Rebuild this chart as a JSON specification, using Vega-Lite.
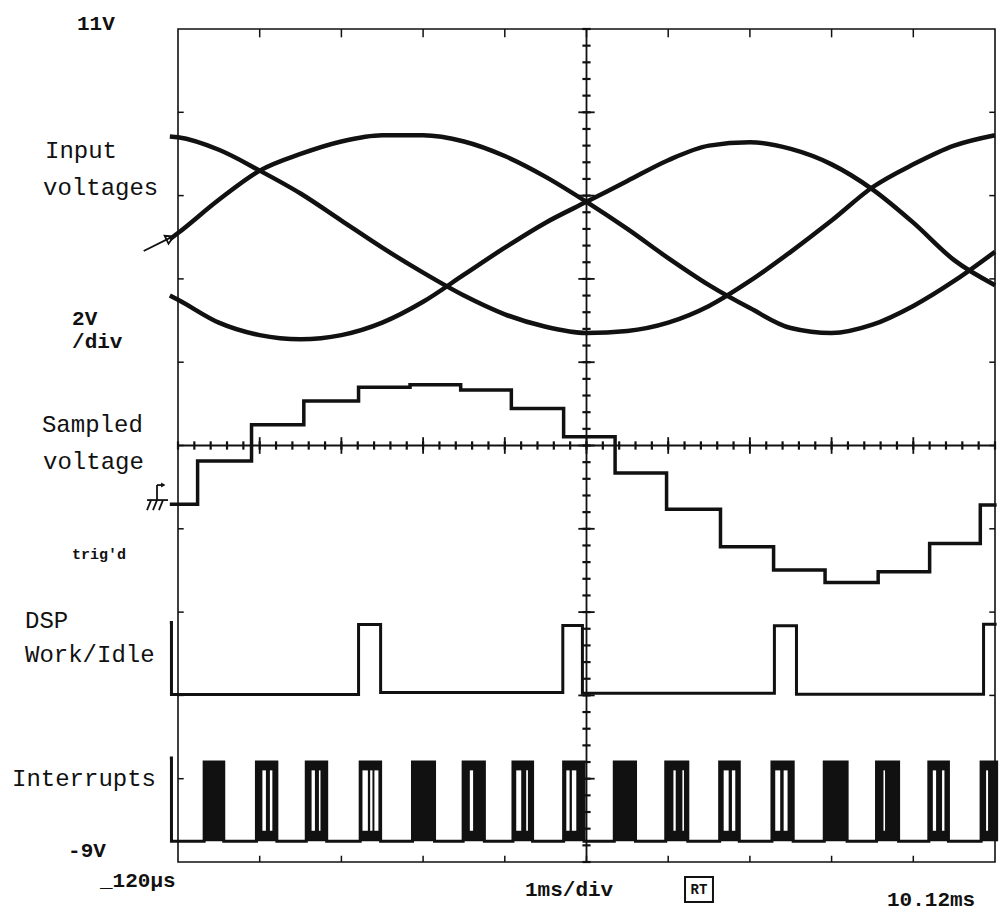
{
  "$schema": "https://vega.github.io/schema/vega-lite/v6.json",
  "width": 817,
  "height": 833,
  "autosize": {"type": "none"},
  "padding": {"left": 178, "top": 29, "right": 8, "bottom": 52},
  "background": "white",
  "config": {"view": {"stroke": "#111", "strokeWidth": 1.6}},
  "datasets": {
    "inputs": [
      {"ph": "A", "t": 0.02, "v": 5.95}, {"ph": "A", "t": 0.12, "v": 6.1}, {"ph": "A", "t": 0.62, "v": 6.9}, {"ph": "A", "t": 1.12, "v": 7.6}, {"ph": "A", "t": 1.62, "v": 8.0}, {"ph": "A", "t": 2.12, "v": 8.3}, {"ph": "A", "t": 2.62, "v": 8.45}, {"ph": "A", "t": 3.12, "v": 8.45}, {"ph": "A", "t": 3.62, "v": 8.3}, {"ph": "A", "t": 4.12, "v": 7.95}, {"ph": "A", "t": 4.62, "v": 7.45}, {"ph": "A", "t": 5.12, "v": 6.85}, {"ph": "A", "t": 5.62, "v": 6.2}, {"ph": "A", "t": 6.12, "v": 5.5}, {"ph": "A", "t": 6.62, "v": 4.85}, {"ph": "A", "t": 7.12, "v": 4.3}, {"ph": "A", "t": 7.62, "v": 3.82}, {"ph": "A", "t": 8.12, "v": 3.7}, {"ph": "A", "t": 8.62, "v": 3.9}, {"ph": "A", "t": 9.12, "v": 4.35}, {"ph": "A", "t": 9.62, "v": 4.95}, {"ph": "A", "t": 10.12, "v": 5.65},
      {"ph": "B", "t": 0.02, "v": 8.42}, {"ph": "B", "t": 0.12, "v": 8.4}, {"ph": "B", "t": 0.62, "v": 8.1}, {"ph": "B", "t": 1.12, "v": 7.6}, {"ph": "B", "t": 1.62, "v": 7.05}, {"ph": "B", "t": 2.12, "v": 6.4}, {"ph": "B", "t": 2.62, "v": 5.75}, {"ph": "B", "t": 3.12, "v": 5.15}, {"ph": "B", "t": 3.62, "v": 4.6}, {"ph": "B", "t": 4.12, "v": 4.15}, {"ph": "B", "t": 4.62, "v": 3.85}, {"ph": "B", "t": 5.12, "v": 3.7}, {"ph": "B", "t": 5.62, "v": 3.75}, {"ph": "B", "t": 6.12, "v": 3.95}, {"ph": "B", "t": 6.62, "v": 4.35}, {"ph": "B", "t": 7.12, "v": 4.95}, {"ph": "B", "t": 7.62, "v": 5.65}, {"ph": "B", "t": 8.12, "v": 6.4}, {"ph": "B", "t": 8.62, "v": 7.2}, {"ph": "B", "t": 9.12, "v": 7.75}, {"ph": "B", "t": 9.62, "v": 8.2}, {"ph": "B", "t": 10.12, "v": 8.45},
      {"ph": "C", "t": 0.02, "v": 4.6}, {"ph": "C", "t": 0.12, "v": 4.5}, {"ph": "C", "t": 0.62, "v": 3.95}, {"ph": "C", "t": 1.12, "v": 3.65}, {"ph": "C", "t": 1.62, "v": 3.55}, {"ph": "C", "t": 2.12, "v": 3.65}, {"ph": "C", "t": 2.62, "v": 3.95}, {"ph": "C", "t": 3.12, "v": 4.45}, {"ph": "C", "t": 3.62, "v": 5.1}, {"ph": "C", "t": 4.12, "v": 5.75}, {"ph": "C", "t": 4.62, "v": 6.35}, {"ph": "C", "t": 5.12, "v": 6.85}, {"ph": "C", "t": 5.62, "v": 7.35}, {"ph": "C", "t": 6.12, "v": 7.85}, {"ph": "C", "t": 6.62, "v": 8.2}, {"ph": "C", "t": 7.12, "v": 8.28}, {"ph": "C", "t": 7.62, "v": 8.12}, {"ph": "C", "t": 8.12, "v": 7.75}, {"ph": "C", "t": 8.62, "v": 7.15}, {"ph": "C", "t": 9.12, "v": 6.35}, {"ph": "C", "t": 9.62, "v": 5.45}, {"ph": "C", "t": 10.12, "v": 4.85}
    ],
    "sampled": [
      {"t": 0.02, "v": -0.41}, {"t": 0.36, "v": 0.63}, {"t": 1.02, "v": 1.5}, {"t": 1.66, "v": 2.07}, {"t": 2.33, "v": 2.4}, {"t": 2.96, "v": 2.46}, {"t": 3.58, "v": 2.33}, {"t": 4.2, "v": 1.89}, {"t": 4.84, "v": 1.21}, {"t": 5.47, "v": 0.34}, {"t": 6.1, "v": -0.53}, {"t": 6.76, "v": -1.43}, {"t": 7.41, "v": -1.99}, {"t": 8.04, "v": -2.29}, {"t": 8.69, "v": -2.03}, {"t": 9.32, "v": -1.35}, {"t": 9.94, "v": -0.43}, {"t": 10.14, "v": -0.43}
    ],
    "dsp": [
      {"t": 0.02, "v": -3.25}, {"t": 0.04, "v": -4.98}, {"t": 2.33, "v": -3.3}, {"t": 2.6, "v": -4.93}, {"t": 4.83, "v": -3.32}, {"t": 5.07, "v": -4.95}, {"t": 7.42, "v": -3.33}, {"t": 7.69, "v": -4.97}, {"t": 9.98, "v": -3.29}, {"t": 10.14, "v": -3.29}
    ],
    "irq": [
      {"t": 0.02, "v": -6.5}, {"t": 0.04, "v": -8.5},
      {"t": 0.44, "v": -6.6}, {"t": 0.68, "v": -8.5},
      {"t": 1.08, "v": -6.6}, {"t": 1.33, "v": -8.5},
      {"t": 1.69, "v": -6.6}, {"t": 1.94, "v": -8.5},
      {"t": 2.35, "v": -6.6}, {"t": 2.6, "v": -8.5},
      {"t": 2.99, "v": -6.6}, {"t": 3.26, "v": -8.5},
      {"t": 3.61, "v": -6.6}, {"t": 3.87, "v": -8.5},
      {"t": 4.22, "v": -6.6}, {"t": 4.46, "v": -8.5},
      {"t": 4.84, "v": -6.6}, {"t": 5.09, "v": -8.5},
      {"t": 5.46, "v": -6.6}, {"t": 5.72, "v": -8.5},
      {"t": 6.09, "v": -6.6}, {"t": 6.36, "v": -8.5},
      {"t": 6.75, "v": -6.6}, {"t": 6.99, "v": -8.5},
      {"t": 7.39, "v": -6.6}, {"t": 7.65, "v": -8.5},
      {"t": 8.03, "v": -6.6}, {"t": 8.31, "v": -8.5},
      {"t": 8.67, "v": -6.6}, {"t": 8.94, "v": -8.5},
      {"t": 9.31, "v": -6.6}, {"t": 9.55, "v": -8.5},
      {"t": 9.95, "v": -6.6}, {"t": 10.14, "v": -8.5}
    ],
    "bursts": [
      {"t": 0.44, "t2": 0.68}, {"t": 1.08, "t2": 1.33}, {"t": 1.69, "t2": 1.94}, {"t": 2.35, "t2": 2.6}, {"t": 2.99, "t2": 3.26}, {"t": 3.61, "t2": 3.87}, {"t": 4.22, "t2": 4.46}, {"t": 4.84, "t2": 5.09}, {"t": 5.46, "t2": 5.72}, {"t": 6.09, "t2": 6.36}, {"t": 6.75, "t2": 6.99}, {"t": 7.39, "t2": 7.65}, {"t": 8.03, "t2": 8.31}, {"t": 8.67, "t2": 8.94}, {"t": 9.31, "t2": 9.55}, {"t": 9.95, "t2": 10.14}
    ],
    "gaps": [
      {"t": 1.153, "t2": 1.196}, {"t": 1.245, "t2": 1.275},
      {"t": 1.755, "t2": 1.796}, {"t": 1.845, "t2": 1.864},
      {"t": 2.378, "t2": 2.444}, {"t": 2.472, "t2": 2.5}, {"t": 2.524, "t2": 2.573},
      {"t": 3.692, "t2": 3.732},
      {"t": 4.26, "t2": 4.321}, {"t": 4.382, "t2": 4.403},
      {"t": 4.873, "t2": 4.913}, {"t": 4.941, "t2": 4.995},
      {"t": 6.184, "t2": 6.212}, {"t": 6.294, "t2": 6.313},
      {"t": 6.799, "t2": 6.86}, {"t": 6.9, "t2": 6.941},
      {"t": 7.43, "t2": 7.491}, {"t": 7.533, "t2": 7.581},
      {"t": 8.755, "t2": 8.774},
      {"t": 9.359, "t2": 9.399}, {"t": 9.472, "t2": 9.501},
      {"t": 10.011, "t2": 10.035}
    ],
    "minorX": [
      {"t": 0.12}, {"t": 0.32}, {"t": 0.52}, {"t": 0.72}, {"t": 0.92}, {"t": 1.12}, {"t": 1.32}, {"t": 1.52}, {"t": 1.72}, {"t": 1.92}, {"t": 2.12}, {"t": 2.32}, {"t": 2.52}, {"t": 2.72}, {"t": 2.92}, {"t": 3.12}, {"t": 3.32}, {"t": 3.52}, {"t": 3.72}, {"t": 3.92}, {"t": 4.12}, {"t": 4.32}, {"t": 4.52}, {"t": 4.72}, {"t": 4.92}, {"t": 5.12}, {"t": 5.32}, {"t": 5.52}, {"t": 5.72}, {"t": 5.92}, {"t": 6.12}, {"t": 6.32}, {"t": 6.52}, {"t": 6.72}, {"t": 6.92}, {"t": 7.12}, {"t": 7.32}, {"t": 7.52}, {"t": 7.72}, {"t": 7.92}, {"t": 8.12}, {"t": 8.32}, {"t": 8.52}, {"t": 8.72}, {"t": 8.92}, {"t": 9.12}, {"t": 9.32}, {"t": 9.52}, {"t": 9.72}, {"t": 9.92}, {"t": 10.12}
    ],
    "majorX": [
      {"t": 1.12}, {"t": 2.12}, {"t": 3.12}, {"t": 4.12}, {"t": 5.12}, {"t": 6.12}, {"t": 7.12}, {"t": 8.12}, {"t": 9.12}
    ],
    "minorY": [
      {"v": -9}, {"v": -8.6}, {"v": -8.2}, {"v": -7.8}, {"v": -7.4}, {"v": -7}, {"v": -6.6}, {"v": -6.2}, {"v": -5.8}, {"v": -5.4}, {"v": -5}, {"v": -4.6}, {"v": -4.2}, {"v": -3.8}, {"v": -3.4}, {"v": -3}, {"v": -2.6}, {"v": -2.2}, {"v": -1.8}, {"v": -1.4}, {"v": -1}, {"v": -0.6}, {"v": -0.2}, {"v": 0.2}, {"v": 0.6}, {"v": 1}, {"v": 1.4}, {"v": 1.8}, {"v": 2.2}, {"v": 2.6}, {"v": 3}, {"v": 3.4}, {"v": 3.8}, {"v": 4.2}, {"v": 4.6}, {"v": 5}, {"v": 5.4}, {"v": 5.8}, {"v": 6.2}, {"v": 6.6}, {"v": 7}, {"v": 7.4}, {"v": 7.8}, {"v": 8.2}, {"v": 8.6}, {"v": 9}, {"v": 9.4}, {"v": 9.8}, {"v": 10.2}, {"v": 10.6}, {"v": 11}
    ],
    "majorY": [
      {"v": -7}, {"v": -5}, {"v": -3}, {"v": -1}, {"v": 1}, {"v": 3}, {"v": 5}, {"v": 7}, {"v": 9}
    ],
    "segments": [
      {"t": -0.3, "v": 5.67, "t2": 0.09, "v2": 6.05},
      {"t": -0.137, "v": 0.05, "t2": -0.137, "v2": -0.31},
      {"t": -0.137, "v": 0.05, "t2": -0.07, "v2": 0.05},
      {"t": -0.259, "v": -0.31, "t2": -0.002, "v2": -0.31},
      {"t": -0.21, "v": -0.31, "t2": -0.259, "v2": -0.55},
      {"t": -0.137, "v": -0.31, "t2": -0.186, "v2": -0.55},
      {"t": -0.064, "v": -0.31, "t2": -0.113, "v2": -0.55}
    ],
    "typewriter": [
      {"t": -1.508, "v": 7.9, "label": "Input"},
      {"t": -1.532, "v": 7.01, "label": "voltages"},
      {"t": -1.545, "v": 1.32, "label": "Sampled"},
      {"t": -1.532, "v": 0.44, "label": "voltage"},
      {"t": -1.753, "v": -3.38, "label": "DSP"},
      {"t": -1.753, "v": -4.2, "label": "Work/Idle"},
      {"t": -1.912, "v": -7.18, "label": "Interrupts"}
    ],
    "scope": [
      {"t": -1.116, "v": 10.98, "label": "11V"},
      {"t": -1.177, "v": 3.89, "label": "2V"},
      {"t": -1.177, "v": 3.34, "label": "/div"},
      {"t": -1.226, "v": -8.88, "label": "-9V"},
      {"t": -0.835, "v": -9.6, "label": "_120µs"},
      {"t": 4.367, "v": -9.82, "label": "1ms/div"},
      {"t": 8.798, "v": -10.05, "label": "10.12ms"}
    ]
  },
  "layer": [
    {"data": {"values": [{"t": 0.12, "t2": 10.12, "v": 1}]}, "mark": {"type": "rule", "color": "#111", "strokeWidth": 1.8},
     "encoding": {
       "x": {"field": "t", "type": "quantitative", "scale": {"domain": [0.12, 10.12], "nice": false, "zero": false}, "axis": null},
       "x2": {"field": "t2"},
       "y": {"field": "v", "type": "quantitative", "scale": {"domain": [-9, 11], "nice": false, "zero": false}, "axis": null}}},
    {"data": {"values": [{"t": 5.12, "v": -9, "v2": 11}]}, "mark": {"type": "rule", "color": "#111", "strokeWidth": 1.8},
     "encoding": {
       "x": {"field": "t", "type": "quantitative", "scale": {"domain": [0.12, 10.12], "nice": false, "zero": false}, "axis": null},
       "y": {"field": "v", "type": "quantitative", "scale": {"domain": [-9, 11], "nice": false, "zero": false}, "axis": null},
       "y2": {"field": "v2"}}},
    {"data": {"name": "minorX"}, "mark": {"type": "rule", "color": "#111", "strokeWidth": 2.2},
     "encoding": {
       "x": {"field": "t", "type": "quantitative", "scale": {"domain": [0.12, 10.12], "nice": false, "zero": false}, "axis": null},
       "y": {"datum": 0.9, "type": "quantitative", "scale": {"domain": [-9, 11], "nice": false, "zero": false}, "axis": null},
       "y2": {"datum": 1.1}}},
    {"data": {"name": "majorX"}, "mark": {"type": "rule", "color": "#111", "strokeWidth": 1.8},
     "encoding": {
       "x": {"field": "t", "type": "quantitative", "scale": {"domain": [0.12, 10.12], "nice": false, "zero": false}, "axis": null},
       "y": {"datum": 0.8, "type": "quantitative", "scale": {"domain": [-9, 11], "nice": false, "zero": false}, "axis": null},
       "y2": {"datum": 1.2}}},
    {"data": {"name": "minorY"}, "mark": {"type": "rule", "color": "#111", "strokeWidth": 2.2},
     "encoding": {
       "x": {"datum": 5.07, "type": "quantitative", "scale": {"domain": [0.12, 10.12], "nice": false, "zero": false}, "axis": null},
       "x2": {"datum": 5.17},
       "y": {"field": "v", "type": "quantitative", "scale": {"domain": [-9, 11], "nice": false, "zero": false}, "axis": null}}},
    {"data": {"name": "majorY"}, "mark": {"type": "rule", "color": "#111", "strokeWidth": 1.8},
     "encoding": {
       "x": {"datum": 5.02, "type": "quantitative", "scale": {"domain": [0.12, 10.12], "nice": false, "zero": false}, "axis": null},
       "x2": {"datum": 5.22},
       "y": {"field": "v", "type": "quantitative", "scale": {"domain": [-9, 11], "nice": false, "zero": false}, "axis": null}}},
    {"data": {"name": "majorX"}, "mark": {"type": "rule", "color": "#111", "strokeWidth": 1.5},
     "encoding": {
       "x": {"field": "t", "type": "quantitative", "scale": {"domain": [0.12, 10.12], "nice": false, "zero": false}, "axis": null},
       "y": {"datum": 11, "type": "quantitative", "scale": {"domain": [-9, 11], "nice": false, "zero": false}, "axis": null},
       "y2": {"datum": 10.8}}},
    {"data": {"name": "majorX"}, "mark": {"type": "rule", "color": "#111", "strokeWidth": 1.5},
     "encoding": {
       "x": {"field": "t", "type": "quantitative", "scale": {"domain": [0.12, 10.12], "nice": false, "zero": false}, "axis": null},
       "y": {"datum": -9, "type": "quantitative", "scale": {"domain": [-9, 11], "nice": false, "zero": false}, "axis": null},
       "y2": {"datum": -8.85}}},
    {"data": {"name": "majorY"}, "mark": {"type": "rule", "color": "#111", "strokeWidth": 1.5},
     "encoding": {
       "x": {"datum": 0.12, "type": "quantitative", "scale": {"domain": [0.12, 10.12], "nice": false, "zero": false}, "axis": null},
       "x2": {"datum": 0.19},
       "y": {"field": "v", "type": "quantitative", "scale": {"domain": [-9, 11], "nice": false, "zero": false}, "axis": null}}},
    {"data": {"name": "majorY"}, "mark": {"type": "rule", "color": "#111", "strokeWidth": 1.5},
     "encoding": {
       "x": {"datum": 10.12, "type": "quantitative", "scale": {"domain": [0.12, 10.12], "nice": false, "zero": false}, "axis": null},
       "x2": {"datum": 10.05},
       "y": {"field": "v", "type": "quantitative", "scale": {"domain": [-9, 11], "nice": false, "zero": false}, "axis": null}}},
    {"data": {"name": "inputs"}, "mark": {"type": "line", "color": "#111", "strokeWidth": 4.5, "interpolate": "monotone"},
     "encoding": {
       "x": {"field": "t", "type": "quantitative", "scale": {"domain": [0.12, 10.12], "nice": false, "zero": false}, "axis": null},
       "y": {"field": "v", "type": "quantitative", "scale": {"domain": [-9, 11], "nice": false, "zero": false}, "axis": null},
       "detail": {"field": "ph", "type": "nominal"}}},
    {"data": {"name": "sampled"}, "mark": {"type": "line", "color": "#111", "strokeWidth": 3.5, "interpolate": "step-after"},
     "encoding": {
       "x": {"field": "t", "type": "quantitative", "scale": {"domain": [0.12, 10.12], "nice": false, "zero": false}, "axis": null},
       "y": {"field": "v", "type": "quantitative", "scale": {"domain": [-9, 11], "nice": false, "zero": false}, "axis": null}}},
    {"data": {"name": "dsp"}, "mark": {"type": "line", "color": "#111", "strokeWidth": 3, "interpolate": "step-after"},
     "encoding": {
       "x": {"field": "t", "type": "quantitative", "scale": {"domain": [0.12, 10.12], "nice": false, "zero": false}, "axis": null},
       "y": {"field": "v", "type": "quantitative", "scale": {"domain": [-9, 11], "nice": false, "zero": false}, "axis": null}}},
    {"data": {"name": "bursts"}, "mark": {"type": "rect", "color": "#111"},
     "encoding": {
       "x": {"field": "t", "type": "quantitative", "scale": {"domain": [0.12, 10.12], "nice": false, "zero": false}, "axis": null},
       "x2": {"field": "t2"},
       "y": {"datum": -8.5, "type": "quantitative", "scale": {"domain": [-9, 11], "nice": false, "zero": false}, "axis": null},
       "y2": {"datum": -6.6}}},
    {"data": {"name": "gaps"}, "mark": {"type": "rect", "color": "white"},
     "encoding": {
       "x": {"field": "t", "type": "quantitative", "scale": {"domain": [0.12, 10.12], "nice": false, "zero": false}, "axis": null},
       "x2": {"field": "t2"},
       "y": {"datum": -8.25, "type": "quantitative", "scale": {"domain": [-9, 11], "nice": false, "zero": false}, "axis": null},
       "y2": {"datum": -6.8}}},
    {"data": {"name": "irq"}, "mark": {"type": "line", "color": "#111", "strokeWidth": 3, "interpolate": "step-after"},
     "encoding": {
       "x": {"field": "t", "type": "quantitative", "scale": {"domain": [0.12, 10.12], "nice": false, "zero": false}, "axis": null},
       "y": {"field": "v", "type": "quantitative", "scale": {"domain": [-9, 11], "nice": false, "zero": false}, "axis": null}}},
    {"data": {"name": "segments"}, "mark": {"type": "rule", "color": "#111", "strokeWidth": 1.8},
     "encoding": {
       "x": {"field": "t", "type": "quantitative", "scale": {"domain": [0.12, 10.12], "nice": false, "zero": false}, "axis": null},
       "x2": {"field": "t2"},
       "y": {"field": "v", "type": "quantitative", "scale": {"domain": [-9, 11], "nice": false, "zero": false}, "axis": null},
       "y2": {"field": "v2"}}},
    {"data": {"values": [{"t": 0.023, "v": 5.98}]}, "mark": {"type": "point", "shape": "triangle-right", "angle": -26, "size": 80, "filled": false, "color": "#111", "strokeWidth": 1.8, "opacity": 1},
     "encoding": {
       "x": {"field": "t", "type": "quantitative", "scale": {"domain": [0.12, 10.12], "nice": false, "zero": false}, "axis": null},
       "y": {"field": "v", "type": "quantitative", "scale": {"domain": [-9, 11], "nice": false, "zero": false}, "axis": null}}},
    {"data": {"values": [{"t": -0.06, "v": 0.05}]}, "mark": {"type": "point", "shape": "triangle-right", "size": 25, "filled": true, "color": "#111", "opacity": 1},
     "encoding": {
       "x": {"field": "t", "type": "quantitative", "scale": {"domain": [0.12, 10.12], "nice": false, "zero": false}, "axis": null},
       "y": {"field": "v", "type": "quantitative", "scale": {"domain": [-9, 11], "nice": false, "zero": false}, "axis": null}}},
    {"data": {"name": "typewriter"}, "mark": {"type": "text", "align": "left", "baseline": "alphabetic", "font": "Liberation Mono", "fontSize": 24, "color": "#111"},
     "encoding": {
       "x": {"field": "t", "type": "quantitative", "scale": {"domain": [0.12, 10.12], "nice": false, "zero": false}, "axis": null},
       "y": {"field": "v", "type": "quantitative", "scale": {"domain": [-9, 11], "nice": false, "zero": false}, "axis": null},
       "text": {"field": "label"}}},
    {"data": {"name": "scope"}, "mark": {"type": "text", "align": "left", "baseline": "alphabetic", "font": "Liberation Mono", "fontSize": 21, "fontWeight": "bold", "color": "#111"},
     "encoding": {
       "x": {"field": "t", "type": "quantitative", "scale": {"domain": [0.12, 10.12], "nice": false, "zero": false}, "axis": null},
       "y": {"field": "v", "type": "quantitative", "scale": {"domain": [-9, 11], "nice": false, "zero": false}, "axis": null},
       "text": {"field": "label"}}},
    {"data": {"values": [{"t": -1.177, "v": -1.73, "label": "trig'd"}]}, "mark": {"type": "text", "align": "left", "baseline": "alphabetic", "font": "Liberation Mono", "fontSize": 15, "fontWeight": "bold", "color": "#111"},
     "encoding": {
       "x": {"field": "t", "type": "quantitative", "scale": {"domain": [0.12, 10.12], "nice": false, "zero": false}, "axis": null},
       "y": {"field": "v", "type": "quantitative", "scale": {"domain": [-9, 11], "nice": false, "zero": false}, "axis": null},
       "text": {"field": "label"}}},
    {"data": {"values": [{"t": 6.326, "t2": 6.668, "v": -9.36, "v2": -9.96}]}, "mark": {"type": "rect", "fill": "white", "stroke": "#111", "strokeWidth": 2},
     "encoding": {
       "x": {"field": "t", "type": "quantitative", "scale": {"domain": [0.12, 10.12], "nice": false, "zero": false}, "axis": null},
       "x2": {"field": "t2"},
       "y": {"field": "v", "type": "quantitative", "scale": {"domain": [-9, 11], "nice": false, "zero": false}, "axis": null},
       "y2": {"field": "v2"}}},
    {"data": {"values": [{"t": 6.497, "v": -9.67, "label": "RT"}]}, "mark": {"type": "text", "align": "center", "baseline": "middle", "font": "Liberation Mono", "fontSize": 14, "fontWeight": "bold", "color": "#111"},
     "encoding": {
       "x": {"field": "t", "type": "quantitative", "scale": {"domain": [0.12, 10.12], "nice": false, "zero": false}, "axis": null},
       "y": {"field": "v", "type": "quantitative", "scale": {"domain": [-9, 11], "nice": false, "zero": false}, "axis": null},
       "text": {"field": "label"}}}
  ]
}
